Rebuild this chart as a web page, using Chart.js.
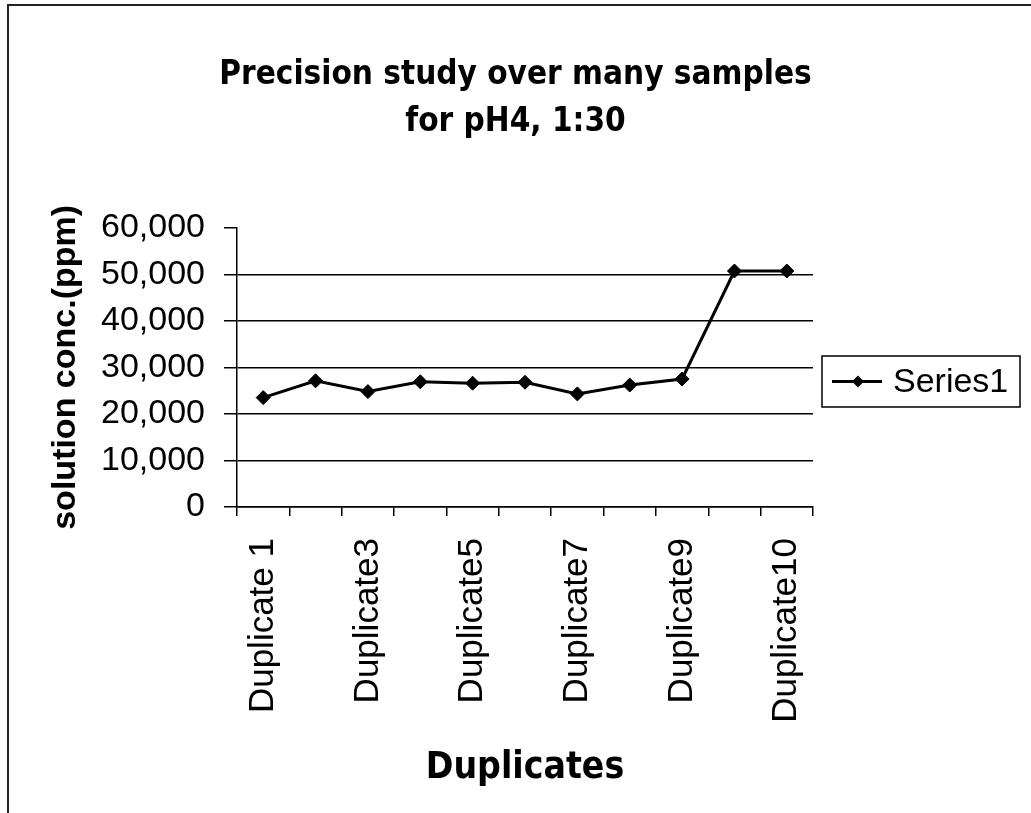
<!DOCTYPE html>
<html>
<head>
<meta charset="utf-8">
<title>Precision study</title>
<script src="https://cdn.jsdelivr.net/npm/chart.js@4/dist/chart.umd.min.js"></script>
<style>
  html, body { margin: 0; padding: 0; background: #fff; }
  #wrap { width: 1031px; height: 813px; position: relative; }
</style>
</head>
<body>
<div id="wrap"><canvas id="precision-chart" width="1031" height="813"></canvas></div>
<script>
// Data
const categories = ['Duplicate 1', 'Duplicate2', 'Duplicate3', 'Duplicate4', 'Duplicate5', 'Duplicate6',
  'Duplicate7', 'Duplicate8', 'Duplicate9', 'Duplicate10', 'Duplicate10'];
const series1 = [23500, 27100, 24800, 26900, 26600, 26800, 24300, 26200, 27500, 50700, 50700];
const yTicks = [0, 10000, 20000, 30000, 40000, 50000, 60000];
const titleLines = ['Precision study over many samples', 'for pH4, 1:30'];

const FONT = '"Liberation Sans", Arial, sans-serif';
const NARROW = '"DejaVu Sans Condensed", "Liberation Sans", sans-serif';

// border lines of the chart frame (top and left only, as scanned)
const framePlugin = {
  id: 'frame',
  beforeDraw(chart) {
    const ctx = chart.ctx;
    ctx.save();
    ctx.fillStyle = '#fff';
    ctx.fillRect(0, 0, chart.width, chart.height);
    ctx.strokeStyle = '#222';
    ctx.lineWidth = 2;
    ctx.beginPath();
    ctx.moveTo(8, chart.height);
    ctx.lineTo(8, 5);
    ctx.lineTo(chart.width, 5);
    ctx.stroke();
    ctx.restore();
  }
};

// Excel-style boxed legend at the right of the plot
const boxLegendPlugin = {
  id: 'boxLegend',
  afterDraw(chart) {
    const ctx = chart.ctx;
    const ds = chart.data.datasets[0];
    const area = chart.chartArea;
    const x = area.right + 9, y = 356, w = 198, h = 51;
    const cy = y + h / 2;
    ctx.save();
    ctx.strokeStyle = '#000';
    ctx.lineWidth = 1.5;
    ctx.strokeRect(x, y, w, h);
    ctx.strokeStyle = ds.borderColor;
    ctx.lineWidth = 3;
    ctx.beginPath();
    ctx.moveTo(x + 10, cy);
    ctx.lineTo(x + 60, cy);
    ctx.stroke();
    ctx.fillStyle = ds.pointBackgroundColor;
    ctx.beginPath();
    ctx.moveTo(x + 36, cy - 6); ctx.lineTo(x + 42, cy); ctx.lineTo(x + 36, cy + 6); ctx.lineTo(x + 30, cy);
    ctx.closePath();
    ctx.fill();
    ctx.fillStyle = '#000';
    ctx.font = '34px ' + FONT;
    ctx.textBaseline = 'middle';
    ctx.fillText(ds.label, x + 71, cy + 1);
    ctx.restore();
  }
};

function initChart() {
  const ctx = document.getElementById('precision-chart');
  new Chart(ctx, {
    type: 'line',
    data: {
      labels: categories,
      datasets: [{
        label: 'Series1',
        data: series1,
        borderColor: '#000',
        backgroundColor: '#000',
        borderWidth: 3,
        pointStyle: 'rectRot',
        pointRadius: 7,
        pointBorderWidth: 1,
        pointBackgroundColor: '#000',
        pointBorderColor: '#000',
        tension: 0
      }]
    },
    options: {
      responsive: false,
      animation: false,
      layout: { padding: 0 },
      plugins: {
        legend: { display: false },
        tooltip: { enabled: false },
        title: {
          display: true,
          text: titleLines,
          color: '#000',
          font: { family: NARROW, size: 33, weight: 'bold', lineHeight: 1.42 },
          padding: { top: 52, bottom: 82 }
        }
      },
      scales: {
        x: {
          offset: true,
          afterFit(scale) { scale.height = 306; },
          grid: { drawOnChartArea: false, drawTicks: true, tickLength: 9, tickColor: '#000', lineWidth: 1.5, offset: true },
          border: { display: true, color: '#000', width: 1.5 },
          ticks: {
            autoSkip: false,
            minRotation: 90,
            maxRotation: 90,
            padding: 22,
            color: '#000',
            font: { family: FONT, size: 35 },
            callback: function (value, index) {
              return index % 2 === 0 ? this.getLabelForValue(value) : '';
            }
          },
          title: {
            display: true,
            text: 'Duplicates',
            color: '#000',
            font: { family: NARROW, size: 37, weight: 'bold', lineHeight: 1.2 },
            padding: { top: 0, bottom: 22 }
          }
        },
        y: {
          min: yTicks[0],
          max: yTicks[yTicks.length - 1],
          afterFit(scale) { scale.width = 237; },
          afterBuildTicks(scale) { scale.ticks = yTicks.map(v => ({ value: v })); },
          grid: {
            color: c => (c.tick && c.tick.value === yTicks[yTicks.length - 1]) ? 'rgba(0,0,0,0)' : '#000',
            tickColor: '#000',
            tickLength: 13,
            lineWidth: 1.5
          },
          border: { display: true, color: '#000', width: 1.5 },
          ticks: {
            padding: 19,
            color: '#000',
            font: { family: FONT, size: 34 },
            callback: v => v.toLocaleString('en-US')
          },
          title: {
            display: true,
            text: 'solution conc.(ppm)',
            color: '#000',
            font: { family: FONT, size: 34, weight: 'bold' },
            padding: { top: 45, bottom: 0 }
          }
        },
        // empty right-hand axis that only reserves the room the legend sits in
        legendSpace: {
          type: 'linear',
          axis: 'y',
          position: 'right',
          afterFit(scale) { scale.width = 218; },
          grid: { display: false, drawTicks: false },
          border: { display: false },
          ticks: { display: false }
        }
      }
    },
    plugins: [framePlugin, boxLegendPlugin]
  });
}

document.addEventListener('DOMContentLoaded', initChart);
</script>
</body>
</html>
